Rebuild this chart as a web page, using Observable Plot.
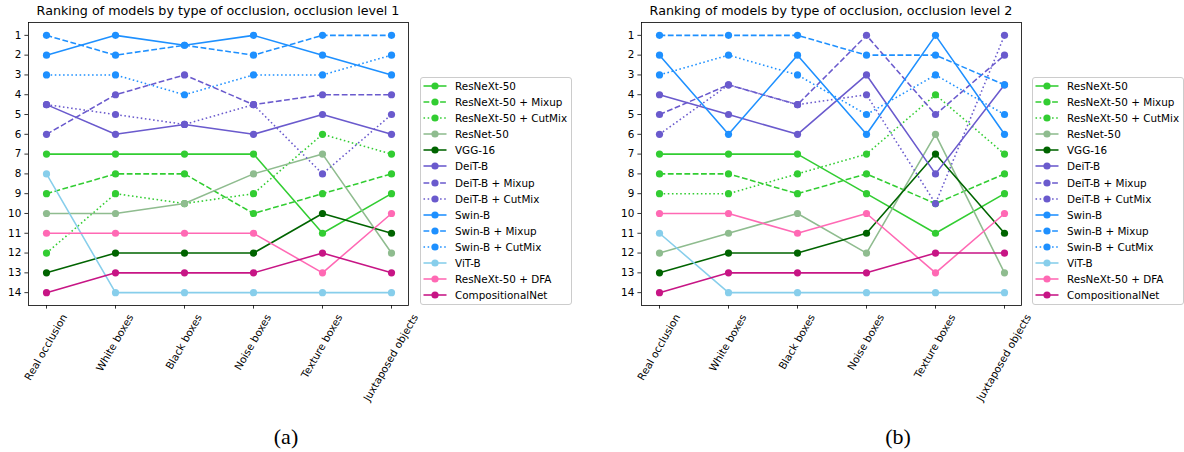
<!DOCTYPE html>
<html><head><meta charset="utf-8">
<script src="https://cdn.jsdelivr.net/npm/d3@7"></script>
<script src="https://cdn.jsdelivr.net/npm/@observablehq/plot@0.6"></script>
<style>
body{margin:0;background:#fff;font-family:"DejaVu Sans",sans-serif;}
#root{position:relative;width:1184px;height:452px;overflow:hidden;background:#fff;color:#000;font-family:"DejaVu Sans";}
.title{position:absolute;font-family:"DejaVu Sans";font-size:12.7px;line-height:14px;white-space:nowrap;transform:translateX(-50%);}
.legend{position:absolute;border:0.8px solid #cccccc;border-radius:3px;background:rgba(255,255,255,0.8);box-sizing:border-box}
.row{position:absolute;left:0;height:16px;line-height:16px;white-space:nowrap;font-family:"DejaVu Sans";font-size:10.4px}
.row svg{position:absolute;left:2.2px;top:0}
.row span{position:absolute;left:34px;top:0;white-space:nowrap}
.sub{position:absolute;font-family:"Liberation Serif",serif;font-size:22px;line-height:24px;transform:translateX(-50%)}
.chart{position:absolute;top:0}
</style></head><body><div id="root"></div>
<script>
const categories = ["Real occlusion","White boxes","Black boxes","Noise boxes","Texture boxes","Juxtaposed objects"];
const models = ["ResNeXt-50","ResNeXt-50 + Mixup","ResNeXt-50 + CutMix","ResNet-50","VGG-16","DeiT-B","DeiT-B + Mixup","DeiT-B + CutMix","Swin-B","Swin-B + Mixup","Swin-B + CutMix","ViT-B","ResNeXt-50 + DFA","CompositionalNet"];
const yTicks = [1,2,3,4,5,6,7,8,9,10,11,12,13,14];
const titles = ["Ranking of models by type of occlusion, occlusion level 1","Ranking of models by type of occlusion, occlusion level 2"];
const subLabels = ["(a)","(b)"];

// ranks per model (rows follow `models`), columns follow `categories`
const ranksLevel1 = [
  [7,7,7,7,11,9],
  [9,8,8,10,9,8],
  [12,9,9.5,9,6,7],
  [10,10,9.5,8,7,12],
  [13,12,12,12,10,11],
  [4.5,6,5.5,6,5,6],
  [6,4,3,4.5,4,4],
  [4.5,5,5.5,4.5,8,5],
  [2,1,1.5,1,2,3],
  [1,2,1.5,2,1,1],
  [3,3,4,3,3,2],
  [8,14,14,14,14,14],
  [11,11,11,11,13,10],
  [14,13,13,13,12,13]
];
const ranksLevel2 = [
  [7,7,7,9,11,9],
  [8,8,9,8,9.5,8],
  [9,9,8,7,4,7],
  [12,11,10,12,6,13],
  [13,12,12,11,7,11],
  [4,5,6,3,8,3.5],
  [5,3.5,4.5,1,5,2],
  [6,3.5,4.5,4,9.5,1],
  [2,6,2,6,1,6],
  [1,1,1,2,2,3.5],
  [3,2,3,5,3,5],
  [11,14,14,14,14,14],
  [10,10,11,10,13,10],
  [14,13,13,13,12,12]
];

// styling
const colors = ["#32cd32","#32cd32","#32cd32","#8fbc8f","#006400","#6a5acd","#6a5acd","#6a5acd","#1e90ff","#1e90ff","#1e90ff","#87ceeb","#ff69b4","#c71585"];
const lineStyles = ["solid","dashed","dotted","solid","solid","solid","dashed","dotted","solid","dashed","dotted","solid","solid","solid"];
const dashArr = {solid: null, dashed: "5.8,2.5", dotted: "1.56,2.58"};

const root = document.getElementById("root");

function makeChart(ranks, left) {
  const marks = [];
  models.forEach((m, i) => {
    const data = categories.map((c, j) => ({category: c, rank: ranks[i][j]}));
    marks.push(Plot.line(data, {x: "category", y: "rank", stroke: colors[i], strokeWidth: 1.56,
      strokeDasharray: dashArr[lineStyles[i]], strokeLinecap: "butt", strokeLinejoin: "round"}));
    marks.push(Plot.dot(data, {x: "category", y: "rank", fill: colors[i], r: 3.6, stroke: null}));
  });
  marks.push(Plot.frame({stroke: "#000", strokeWidth: 0.8}));
  marks.push(Plot.axisY({ticks: yTicks, tickSize: 3.6, tickPadding: 3.6, strokeWidth: 0.8, label: null, tickFormat: d => String(d)}));
  marks.push(Plot.axisX({tickSize: 3.6, strokeWidth: 0.8, label: null, tickRotate: -60}));
  const chart = Plot.plot({
    width: 420, height: 390,
    marginLeft: 28, marginRight: 12, marginTop: 22, marginBottom: 85,
    x: {type: "point", domain: categories, padding: 0.25},
    y: {domain: [0.35, 14.65], reverse: true},
    style: {fontFamily: "DejaVu Sans", fontSize: "10.4px", background: "transparent", overflow: "visible", color: "#000"},
    marks
  });
  chart.classList.add("chart");
  chart.style.left = left + "px";
  root.appendChild(chart);
  // center rotated tick-label bounding boxes under ticks (matplotlib style)
  const xs = chart.scale("x");
  const axisBottom = 390 - 85;
  d3.select(chart).selectAll('g[aria-label="x-axis tick label"]').attr("transform", null).each(function() {
    d3.select(this).selectAll("text").each(function() {
      const t = d3.select(this);
      const label = this.textContent;
      const tx = xs.apply(label);
      const L = this.getComputedTextLength();
      const h = 10.4 * 1.17;
      const a = Math.PI / 3;
      const H = L * Math.sin(a) + h * Math.cos(a);
      const cy = axisBottom + 3.6 + 3.6 + H / 2;
      t.attr("x", null).attr("y", null).attr("dy", "0.32em").attr("text-anchor", "middle")
       .attr("transform", `translate(${tx},${cy}) rotate(-60)`);
    });
  });
  return chart;
}

makeChart(ranksLevel1, 0);
makeChart(ranksLevel2, 613);

// titles
[[218, 0], [831, 1]].forEach(([cx, k]) => {
  const d = document.createElement("div");
  d.className = "title";
  d.style.left = cx + "px";
  d.style.top = "3.5px";
  d.textContent = titles[k];
  root.appendChild(d);
});

// legends
function makeLegend(left) {
  const box = document.createElement("div");
  box.className = "legend";
  box.style.left = left + "px";
  box.style.top = "77px";
  box.style.width = "152px";
  box.style.height = "228px";
  models.forEach((m, i) => {
    const row = document.createElement("div");
    row.className = "row";
    row.style.top = (8.7 + i * 16.1 - 8 - 0.8) + "px";
    row.style.width = "150px";
    const dash = dashArr[lineStyles[i]];
    row.innerHTML = `<svg width="24" height="16"><line x1="0.5" x2="23.5" y1="8" y2="8" stroke="${colors[i]}" stroke-width="1.56" ${dash ? `stroke-dasharray="${dash}"` : ""}/><circle cx="12" cy="8" r="3.6" fill="${colors[i]}"/></svg><span></span>`;
    row.querySelector("span").textContent = m;
    box.appendChild(row);
  });
  root.appendChild(box);
}
makeLegend(420);
makeLegend(1032);

// sub-figure labels
[[286, 0], [898, 1]].forEach(([cx, k]) => {
  const d = document.createElement("div");
  d.className = "sub";
  d.style.left = cx + "px";
  d.style.top = "425px";
  d.textContent = subLabels[k];
  root.appendChild(d);
});
</script></body></html>
